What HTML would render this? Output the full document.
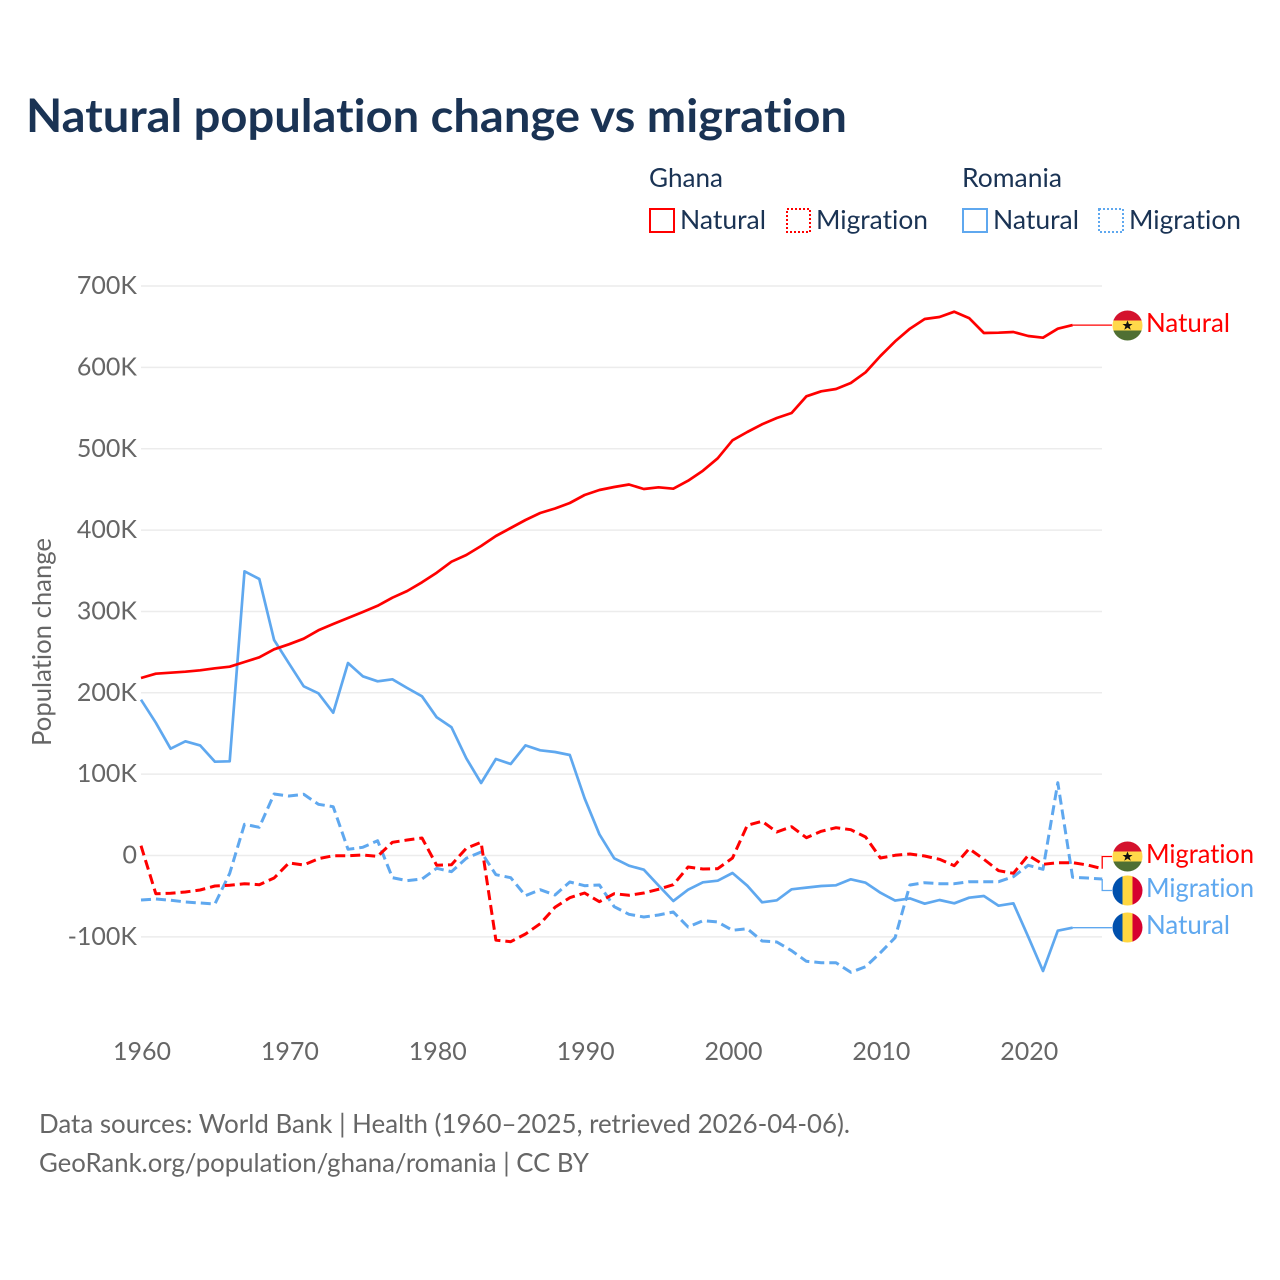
<!DOCTYPE html>
<html lang="en">
<head>
<meta charset="utf-8">
<title>Natural population change vs migration</title>
<style>
html,body{margin:0;padding:0;background:#fff;}
svg{display:block;font-family:"Lato","Carlito","Liberation Sans",sans-serif;font-variant-ligatures:none;}
</style>
</head>
<body>
<svg id="chart" xmlns="http://www.w3.org/2000/svg" width="1280" height="1280" viewBox="0 0 1280 1280">
  <rect width="1280" height="1280" fill="#fff"/>
  <text x="26" y="132" font-size="46" font-weight="700" fill="#1a3354" textLength="821" lengthAdjust="spacingAndGlyphs">Natural population change vs migration</text>

  <g font-size="26" fill="#1a3354">
    <text x="649" y="187" textLength="74" lengthAdjust="spacingAndGlyphs">Ghana</text>
    <text x="962" y="187" textLength="100" lengthAdjust="spacingAndGlyphs">Romania</text>
    <rect x="650" y="209" width="24" height="23" fill="none" stroke="#ff0000" stroke-width="2"/>
    <text x="680" y="229" textLength="86" lengthAdjust="spacingAndGlyphs">Natural</text>
    <rect x="787" y="209" width="23" height="23" fill="none" stroke="#ff0000" stroke-width="2" stroke-dasharray="2,2"/>
    <text x="816" y="229" textLength="112" lengthAdjust="spacingAndGlyphs">Migration</text>
    <rect x="963" y="209" width="24" height="23" fill="none" stroke="#5fa8ef" stroke-width="2"/>
    <text x="993" y="229" textLength="86" lengthAdjust="spacingAndGlyphs">Natural</text>
    <rect x="1099" y="209" width="24" height="23" fill="none" stroke="#5fa8ef" stroke-width="2" stroke-dasharray="2,2"/>
    <text x="1129" y="229" textLength="112" lengthAdjust="spacingAndGlyphs">Migration</text>
  </g>

  <text transform="translate(51,642) rotate(-90)" text-anchor="middle" font-size="26" fill="#666" textLength="208" lengthAdjust="spacingAndGlyphs">Population change</text>

  <g id="grid"></g>
  <g id="yticks" font-size="25" fill="#666"></g>
  <g id="xticks" font-size="25" fill="#666"></g>
  <g id="series"></g>

  <defs>
    <clipPath id="flag-clip"><circle cx="0" cy="0" r="15"/></clipPath>
    <g id="flag-ghana" clip-path="url(#flag-clip)">
      <rect x="-15" y="-15" width="30" height="10" fill="#d4122d"/>
      <rect x="-15" y="-5" width="30" height="10" fill="#ffd84a"/>
      <rect x="-15" y="5" width="30" height="10" fill="#4f6f33"/>
      <polygon points="0,-5 1.4,-1.5 5,-1.5 2.1,0.7 3.2,4.3 0,2.1 -3.2,4.3 -2.1,0.7 -5,-1.5 -1.4,-1.5" fill="#111"/>
    </g>
    <g id="flag-romania" clip-path="url(#flag-clip)">
      <rect x="-15" y="-15" width="10" height="30" fill="#0050ad"/>
      <rect x="-5" y="-15" width="10" height="30" fill="#ffd640"/>
      <rect x="5" y="-15" width="10" height="30" fill="#d6002f"/>
    </g>
  </defs>

  <g>
    <use href="#flag-ghana" x="1127.5" y="325.5"/>
    <text x="1146" y="332" font-size="26" fill="#ff0000" textLength="84" lengthAdjust="spacingAndGlyphs">Natural</text>
  </g>
  <g>
    <use href="#flag-ghana" x="1127.5" y="856.5"/>
    <text x="1146" y="863" font-size="26" fill="#ff0000" textLength="108" lengthAdjust="spacingAndGlyphs">Migration</text>
  </g>
  <g>
    <use href="#flag-romania" x="1127.5" y="890.5"/>
    <text x="1146" y="897" font-size="26" fill="#5fa8ef" textLength="108" lengthAdjust="spacingAndGlyphs">Migration</text>
  </g>
  <g>
    <use href="#flag-romania" x="1127.5" y="927.5"/>
    <text x="1146" y="934" font-size="26" fill="#5fa8ef" textLength="84" lengthAdjust="spacingAndGlyphs">Natural</text>
  </g>

  <text x="39" y="1133" font-size="26" fill="#666" textLength="811" lengthAdjust="spacingAndGlyphs">Data sources: World Bank | Health (1960–2025, retrieved 2026-04-06).</text>
  <text x="39" y="1172" font-size="26" fill="#666" textLength="550" lengthAdjust="spacingAndGlyphs">GeoRank.org/population/ghana/romania | CC BY</text>
</svg>
<script>
const startYear = 1960;
const yTickValues = [700, 600, 500, 400, 300, 200, 100, 0, -100];
const yTickLabels = ['700K', '600K', '500K', '400K', '300K', '200K', '100K', '0', '-100K'];
const xTickValues = [1960, 1970, 1980, 1990, 2000, 2010, 2020];
const ghanaNatural = [218.2,223.5,224.7,225.9,227.7,230.1,232.1,237.9,243.6,253.5,259.6,266.5,276.8,284.6,292,299.3,307,316.9,325.1,335.8,347.6,361.2,369.4,380.4,392.7,402.6,412.4,421,426.6,433.3,443.1,449.3,453,456,450.5,452.6,450.9,460.7,473,488.3,510.4,520.6,530,537.8,544,564.5,570.6,573.4,580.8,594,614,632,647.6,659.5,662,668.5,660.6,642.3,642.7,643.5,638.6,636.5,647.6,652];
const ghanaMigration = [12,-47,-46.5,-44.9,-42.4,-37.5,-36.6,-34.7,-35.9,-27.7,-9.2,-11.7,-3.9,-0.2,-0.2,0.6,-1,16.2,19,21.5,-12,-11.3,8.9,16.2,-104,-106,-96.5,-83.8,-63.7,-51.9,-46.1,-56.8,-47,-48.9,-46.1,-41.5,-35.9,-14.1,-16.6,-16.2,-3.1,37.1,42,28.9,35.4,21.9,29.7,34.2,31.7,22.7,-3.1,0.2,1.8,-0.6,-4.7,-12.5,8.4,-4.7,-18.7,-21.9,0.2,-10.8,-8.9,-8.9,-11.7,-16.2];
const romaniaNatural = [191.5,163.2,131.3,140.4,135.4,115.3,115.8,349.3,339.9,264.9,236.3,208,199.4,175.5,236.6,220.3,214.1,216.6,205.9,195.7,169.9,157.6,119.5,89.1,118.6,112.5,135.4,129.3,127.2,123.5,70.3,26.1,-3.5,-12.5,-17.5,-36.7,-55.9,-42,-33,-31,-21.5,-37.1,-57.5,-55.1,-41.5,-39.5,-37.5,-36.6,-29.3,-33.4,-45.7,-55.5,-52.7,-59.2,-54.7,-58.8,-51.9,-49.8,-61.7,-58.8,-99.8,-142,-92.4,-88.7];
const romaniaMigration = [-54.7,-53.5,-55,-57.2,-58.4,-59.6,-21.9,38.4,34.7,75.6,73.1,75.2,62.9,60,7.6,10.1,18.2,-27.3,-31,-28.9,-15.7,-19.9,-3.5,4.3,-23.6,-27.3,-49.4,-42,-48.6,-32.6,-37.1,-36.3,-62.9,-72.3,-75.6,-73.1,-69.5,-87.9,-80.1,-81.7,-92,-90,-105.1,-106.3,-117,-130,-131.8,-131.8,-143.6,-136.7,-119.5,-101,-36.3,-33.4,-34.7,-34.7,-32.2,-32.2,-32.2,-26,-12,-17,89.5,-26.8,-27.7,-28.9];

const NS = 'http://www.w3.org/2000/svg';
const RED = '#ff0000';
const BLUE = '#5fa8ef';
const xScale = function (year) { return 141 + (year - 1960) * 14.787; };
const yScale = function (k) { return 855.5 - k * 0.8135; };

function make(tag, parent) {
  const el = document.createElementNS(NS, tag);
  parent.appendChild(el);
  return el;
}

const gridGroup = document.getElementById('grid');
const yGroup = document.getElementById('yticks');
yTickValues.forEach(function (v, i) {
  const line = make('line', gridGroup);
  
  
  line.setAttribute('x1', 141);
  line.setAttribute('x2', 1102);
  line.setAttribute('y1', yScale(v));
  line.setAttribute('y2', yScale(v));
  line.setAttribute('stroke', '#ececec');
  line.setAttribute('stroke-width', 1.5);
  const label = make('text', yGroup);
  
  
  label.setAttribute('x', 137);
  label.setAttribute('y', yScale(v) + 8);
  label.setAttribute('text-anchor', 'end');
  label.textContent = yTickLabels[i];
});

const xGroup = document.getElementById('xticks');
xTickValues.forEach(function (year) {
  const label = make('text', xGroup);
  
  
  label.setAttribute('x', xScale(year) + 1);
  label.setAttribute('y', 1060);
  label.setAttribute('text-anchor', 'middle');
  label.textContent = String(year);
});

const seriesGroup = document.getElementById('series');

function drawSeries(values, color, dashed, name) {
  const path = make('polyline', seriesGroup);
  
  
  path.setAttribute('points', values.map(function (v, i) {
    return xScale(startYear + i).toFixed(1) + ',' + yScale(v).toFixed(1);
  }).join(' '));
  path.setAttribute('fill', 'none');
  path.setAttribute('stroke', color);
  path.setAttribute('stroke-width', dashed ? 3 : 2.7);
  path.setAttribute('stroke-linejoin', 'round');
  if (dashed) {
    path.setAttribute('stroke-dasharray', '10,5');
  }
}

function drawConnector(values, color, targetY, stepped, name) {
  const lastIndex = values.length - 1;
  const x0 = xScale(startYear + lastIndex);
  const y0 = yScale(values[lastIndex]);
  const path = make('polyline', seriesGroup);
  
  
  const pts = stepped
    ? [[x0, y0], [x0, targetY], [1112, targetY]]
    : [[x0, y0], [1112, y0]];
  path.setAttribute('points', pts.map(function (p) { return p[0].toFixed(1) + ',' + p[1].toFixed(1); }).join(' '));
  path.setAttribute('fill', 'none');
  path.setAttribute('stroke', color);
  path.setAttribute('stroke-width', 1.3);
}

drawConnector(ghanaNatural, RED, 325.5, false, 'connector-ghana-natural');
drawConnector(ghanaMigration, RED, 856.5, true, 'connector-ghana-migration');
drawConnector(romaniaMigration, BLUE, 890.5, true, 'connector-romania-migration');
drawConnector(romaniaNatural, BLUE, 927.5, false, 'connector-romania-natural');

drawSeries(romaniaMigration, BLUE, true, 'line-romania-migration');
drawSeries(romaniaNatural, BLUE, false, 'line-romania-natural');
drawSeries(ghanaMigration, RED, true, 'line-ghana-migration');
drawSeries(ghanaNatural, RED, false, 'line-ghana-natural');
</script>
</body>
</html>
